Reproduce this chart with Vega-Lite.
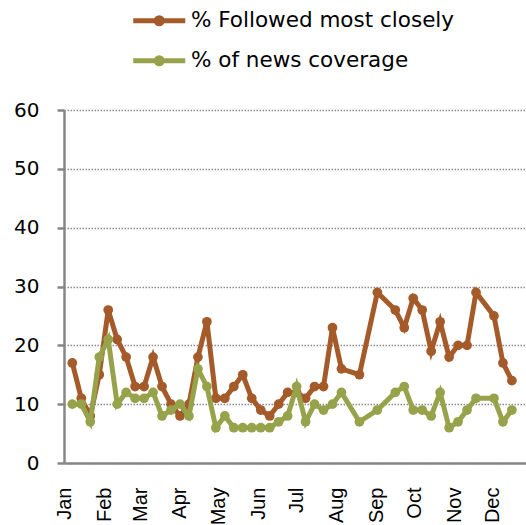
{
  "$schema": "https://vega.github.io/schema/vega-lite/v6.json",
  "width": 462,
  "height": 353,
  "autosize": "none",
  "padding": {"left": 64, "top": 110, "right": 0, "bottom": 62},
  "background": "white",
  "config": {"view": {"stroke": null}, "font": "DejaVu Sans"},
  "data": {
    "values": [
      {"week": "2010-01-07", "% Followed most closely": 17, "% of news coverage": 10},
      {"week": "2010-01-14", "% Followed most closely": 11, "% of news coverage": 10},
      {"week": "2010-01-21", "% Followed most closely": 8, "% of news coverage": 7},
      {"week": "2010-01-28", "% Followed most closely": 15, "% of news coverage": 18},
      {"week": "2010-02-04", "% Followed most closely": 26, "% of news coverage": 21},
      {"week": "2010-02-11", "% Followed most closely": 21, "% of news coverage": 10},
      {"week": "2010-02-18", "% Followed most closely": 18, "% of news coverage": 12},
      {"week": "2010-02-25", "% Followed most closely": 13, "% of news coverage": 11},
      {"week": "2010-03-04", "% Followed most closely": 13, "% of news coverage": 11},
      {"week": "2010-03-11", "% Followed most closely": 18, "% of news coverage": 12},
      {"week": "2010-03-18", "% Followed most closely": 13, "% of news coverage": 8},
      {"week": "2010-03-25", "% Followed most closely": 10, "% of news coverage": 9},
      {"week": "2010-04-01", "% Followed most closely": 8, "% of news coverage": 10},
      {"week": "2010-04-08", "% Followed most closely": 10, "% of news coverage": 8},
      {"week": "2010-04-15", "% Followed most closely": 18, "% of news coverage": 16},
      {"week": "2010-04-22", "% Followed most closely": 24, "% of news coverage": 13},
      {"week": "2010-04-29", "% Followed most closely": 11, "% of news coverage": 6},
      {"week": "2010-05-06", "% Followed most closely": 11, "% of news coverage": 8},
      {"week": "2010-05-13", "% Followed most closely": 13, "% of news coverage": 6},
      {"week": "2010-05-20", "% Followed most closely": 15, "% of news coverage": 6},
      {"week": "2010-05-27", "% Followed most closely": 11, "% of news coverage": 6},
      {"week": "2010-06-03", "% Followed most closely": 9, "% of news coverage": 6},
      {"week": "2010-06-10", "% Followed most closely": 8, "% of news coverage": 6},
      {"week": "2010-06-17", "% Followed most closely": 10, "% of news coverage": 7},
      {"week": "2010-06-24", "% Followed most closely": 12, "% of news coverage": 8},
      {"week": "2010-07-01", "% Followed most closely": 12, "% of news coverage": 13},
      {"week": "2010-07-08", "% Followed most closely": 11, "% of news coverage": 7},
      {"week": "2010-07-15", "% Followed most closely": 13, "% of news coverage": 10},
      {"week": "2010-07-22", "% Followed most closely": 13, "% of news coverage": 9},
      {"week": "2010-07-29", "% Followed most closely": 23, "% of news coverage": 10},
      {"week": "2010-08-05", "% Followed most closely": 16, "% of news coverage": 12},
      {"week": "2010-08-19", "% Followed most closely": 15, "% of news coverage": 7},
      {"week": "2010-09-02", "% Followed most closely": 29, "% of news coverage": 9},
      {"week": "2010-09-16", "% Followed most closely": 26, "% of news coverage": 12},
      {"week": "2010-09-23", "% Followed most closely": 23, "% of news coverage": 13},
      {"week": "2010-09-30", "% Followed most closely": 28, "% of news coverage": 9},
      {"week": "2010-10-07", "% Followed most closely": 26, "% of news coverage": 9},
      {"week": "2010-10-14", "% Followed most closely": 19, "% of news coverage": 8},
      {"week": "2010-10-21", "% Followed most closely": 24, "% of news coverage": 12},
      {"week": "2010-10-28", "% Followed most closely": 18, "% of news coverage": 6},
      {"week": "2010-11-04", "% Followed most closely": 20, "% of news coverage": 7},
      {"week": "2010-11-11", "% Followed most closely": 20, "% of news coverage": 9},
      {"week": "2010-11-18", "% Followed most closely": 29, "% of news coverage": 11},
      {"week": "2010-12-02", "% Followed most closely": 25, "% of news coverage": 11},
      {"week": "2010-12-09", "% Followed most closely": 17, "% of news coverage": 7},
      {"week": "2010-12-16", "% Followed most closely": 14, "% of news coverage": 9}
    ]
  },
  "transform": [
    {"fold": ["% Followed most closely", "% of news coverage"], "as": ["series", "value"]}
  ],
  "encoding": {
    "x": {
      "field": "week",
      "type": "temporal",
      "scale": {
        "type": "utc",
        "domain": [
          {"year": 2009, "month": 12, "date": 31, "hours": 12, "utc": true},
          {"year": 2010, "month": 12, "date": 27, "utc": true}
        ]
      },
      "axis": {
        "title": null,
        "format": "%b",
        "tickCount": {"interval": "month", "step": 1},
        "labelAngle": 270,
        "labelAlign": "right",
        "labelBaseline": "middle",
        "labelFont": "Liberation Sans",
        "labelFontSize": 20,
        "labelColor": "#000000",
        "labelPadding": 24,
        "labelOverlap": false,
        "ticks": false,
        "tickSize": 0,
        "grid": false,
        "domainColor": "#878787",
        "domainWidth": 2.5
      }
    },
    "y": {
      "field": "value",
      "type": "quantitative",
      "scale": {"domain": [0, 60], "nice": false},
      "axis": {
        "title": null,
        "values": [0, 10, 20, 30, 40, 50, 60],
        "labelFont": "DejaVu Sans",
        "labelFontSize": 20,
        "labelColor": "#000000",
        "labelPadding": 18,
        "tickSize": 7,
        "tickColor": "#878787",
        "tickWidth": 2.5,
        "domainColor": "#878787",
        "domainWidth": 2.5,
        "grid": true,
        "gridColor": "#8c8c8c",
        "gridDash": [1.5, 1.5],
        "gridWidth": 1.5
      }
    },
    "color": {
      "field": "series",
      "type": "nominal",
      "scale": {
        "domain": ["% Followed most closely", "% of news coverage"],
        "range": ["#A55A2A", "#97A34B"]
      },
      "legend": {
        "orient": "none",
        "legendX": 66,
        "legendY": -100,
        "title": null,
        "direction": "vertical",
        "labelFont": "DejaVu Sans",
        "labelFontSize": 21.5,
        "labelColor": "#000000",
        "labelLimit": 0,
        "symbolType": "M-5.2,0H5.2M-0.6,0A0.6,0.6,0,1,0,0.6,0A0.6,0.6,0,1,0,-0.6,0Z",
        "symbolSize": 100,
        "symbolStrokeWidth": 5,
        "symbolOffset": 18.5,
        "labelOffset": 21,
        "rowPadding": 13,
        "padding": 0,
        "encode": {
          "symbols": {
            "update": {
              "fill": {"scale": "color", "field": "value"},
              "stroke": {"scale": "color", "field": "value"},
              "opacity": {"value": 1}
            }
          }
        }
      }
    }
  },
  "layer": [
    {
      "transform": [{"filter": "datum.series === '% Followed most closely'"}],
      "mark": {"type": "line", "strokeWidth": 5, "point": {"filled": true, "size": 95, "opacity": 1}}
    },
    {
      "transform": [{"filter": "datum.series === '% of news coverage'"}],
      "mark": {"type": "line", "strokeWidth": 5, "point": {"filled": true, "size": 95, "opacity": 1}}
    }
  ]
}
